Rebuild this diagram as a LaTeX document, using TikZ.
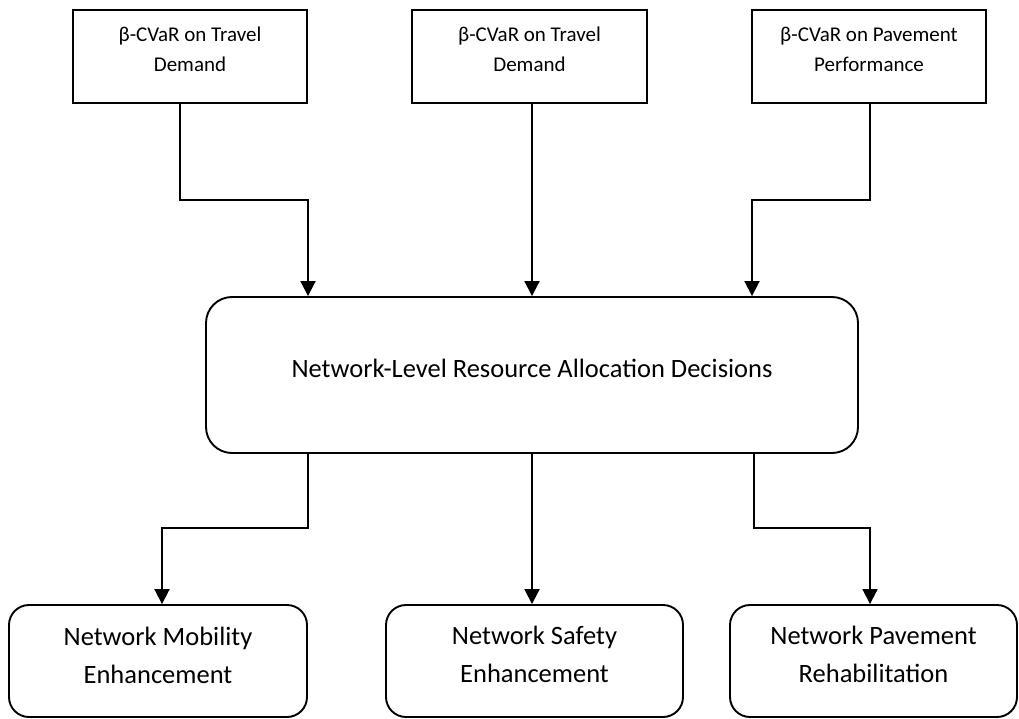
\documentclass[tikz,border=0pt]{standalone}
\usepackage{fontspec}
\setmainfont{Carlito}
\usetikzlibrary{arrows.meta,calc}
\begin{document}
\begin{tikzpicture}[x=1pt,y=-1pt,
 sq/.style={draw,line width=1.9pt,inner sep=0pt},
 rbox/.style={draw,line width=1.9pt,inner sep=0pt},
 lbl/.style={align=center,inner sep=0pt,anchor=base},
 topfont/.style={font=\fontsize{21}{30}\selectfont},
 bigfont/.style={font=\fontsize{26.5}{38}\selectfont},
 arr/.style={line width=1.9pt,-{Triangle[width=15pt,length=15pt]}},
 ]
\useasboundingbox (0,0) rectangle (1019,719);
% top boxes
\node[sq,minimum width=234pt,minimum height=93pt] (t1) at (190,56.5) {};
\node[sq,minimum width=235pt,minimum height=93pt] (t2) at (529.5,56.5) {};
\node[sq,minimum width=234pt,minimum height=93pt] (t3) at (869,56.5) {};
\node[lbl,topfont] (l1) at (190,72) {β-CVaR on Travel\\Demand};
\node[lbl,topfont] (l2) at (529.5,72) {β-CVaR on Travel\\Demand};
\node[lbl,topfont] (l3) at (869,72) {β-CVaR on Pavement\\Performance};
% main box
\node[rbox,rounded corners=26pt,minimum width=652pt,minimum height=156pt] (m) at (532,375) {};
\node[lbl,bigfont] (lm) at (532,377) {Network-Level Resource Allocation Decisions};
% bottom boxes
\node[rbox,rounded corners=20pt,minimum width=298pt,minimum height=112pt] (b1) at (158,661) {};
\node[rbox,rounded corners=20pt,minimum width=297pt,minimum height=112pt] (b2) at (534.5,661) {};
\node[rbox,rounded corners=20pt,minimum width=287pt,minimum height=112pt] (b3) at (873.5,661) {};
\node[lbl,bigfont] (lb1) at (158,683) {Network Mobility\\Enhancement};
\node[lbl,bigfont] (lb2) at (534.5,682) {Network Safety\\Enhancement};
\node[lbl,bigfont] (lb3) at (873.5,682) {Network Pavement\\Rehabilitation};
% connectors top
\coordinate (j1) at (308,200);
\coordinate (j3) at (752,200);
\draw[arr] ($(t1.south)+(-10,0)$) |- (j1) -- (j1 |- m.north);
\draw[arr] (m.north |- t2.south) -- (m.north);
\draw[arr] ($(t3.south)+(1,0)$) |- (j3) -- (j3 |- m.north);
% connectors bottom
\coordinate (j4) at (162,528);
\coordinate (j6) at (870,528);
\draw[arr] ($(m.south)+(-224,0)$) |- (j4) -- (j4 |- b1.north);
\draw[arr] (m.south) -- (m.south |- b2.north);
\draw[arr] ($(m.south)+(222,0)$) |- (j6) -- (j6 |- b3.north);
\end{tikzpicture}
\end{document}
